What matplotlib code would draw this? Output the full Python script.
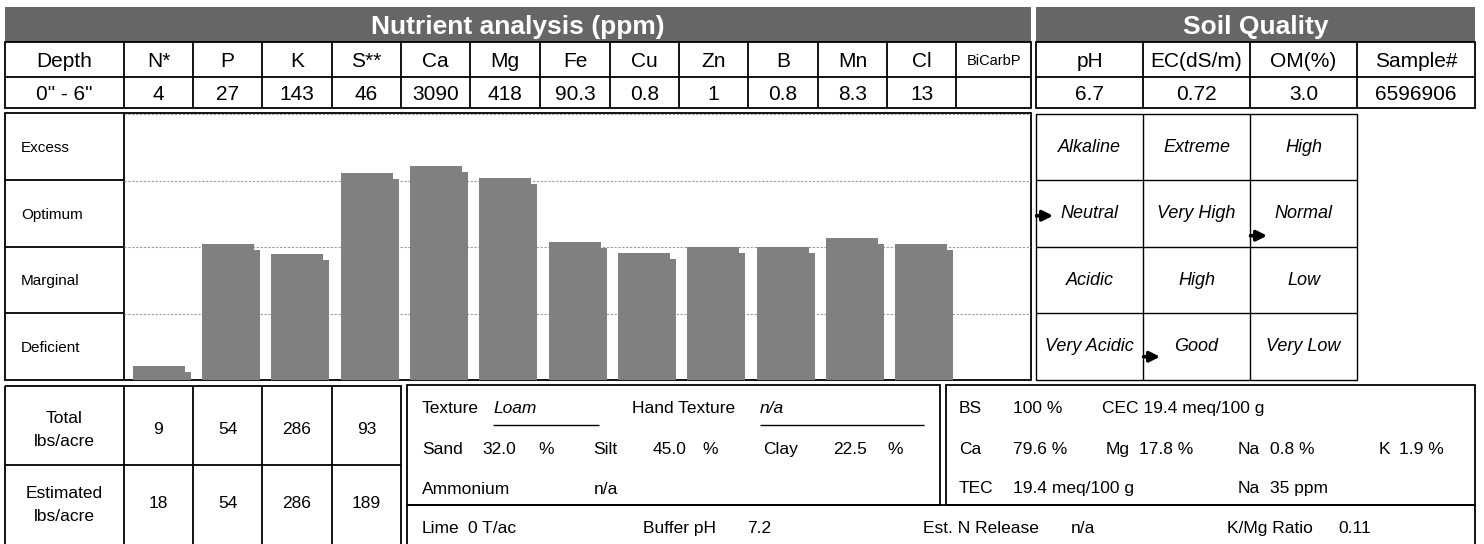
import numpy as np
import matplotlib.pyplot as plt
from matplotlib.patches import Rectangle

plt.rcParams['font.family'] = ['Liberation Sans', 'DejaVu Sans']

# ---- data ----
depth = '0" - 6"'
nutrients = ['N*', 'P', 'K', 'S**', 'Ca', 'Mg', 'Fe', 'Cu', 'Zn', 'B', 'Mn', 'Cl', 'BiCarbP']
ppm = ['4', '27', '143', '46', '3090', '418', '90.3', '0.8', '1', '0.8', '8.3', '13', '']
# bar height in rating units (0 = bottom of Deficient, 4 = top of Excess)
levels = [0.21, 2.04, 1.89, 3.11, 3.22, 3.04, 2.08, 1.91, 2.0, 2.0, 2.13, 2.05]
ratings = ['Excess', 'Optimum', 'Marginal', 'Deficient']

quality_cols = ['pH', 'EC(dS/m)', 'OM(%)', 'Sample#']
quality_vals = ['6.7', '0.72', '3.0', '6596906']
ph_classes = ['Alkaline', 'Neutral', 'Acidic', 'Very Acidic']
ec_classes = ['Extreme', 'Very High', 'High', 'Good']
om_classes = ['High', 'Normal', 'Low', 'Very Low']
quality_levels = [2.47, 0.35, 2.17]   # arrow marks for pH, EC, OM

total_lbs = [9, 54, 286, 93]
est_lbs = [18, 54, 286, 189]

texture, hand_texture = 'Loam', 'n/a'
sand, silt, clay = 32.0, 45.0, 22.5
ammonium = 'n/a'
lime, buffer_ph, n_release, k_mg_ratio = 0, 7.2, 'n/a', 0.11
bs, cec, tec, na_ppm = 100, 19.4, 19.4, 35
sat_labels = ['Ca', 'Mg', 'Na', 'K']
sat_pct = [79.6, 17.8, 0.8, 1.9]

# ---- layout (pixels) ----
W, H = 1484, 544
fig = plt.figure(figsize=(W / 100, H / 100), dpi=100)
ax = fig.add_axes([0, 0, 1, 1])
ax.set_xlim(0, W)
ax.set_ylim(H, 0)
ax.axis('off')


def frac(x0, y0, x1, y1):
    return [x0 / W, 1 - y1 / H, (x1 - x0) / W, (y1 - y0) / H]


def box(x0, y0, x1, y1, lw=1.3, **kw):
    ax.add_patch(Rectangle((x0, y0), x1 - x0, y1 - y0, fill=False, ec='black', lw=lw, **kw))


def hline(y, x0, x1, lw=1.3):
    ax.plot([x0, x1], [y, y], color='black', lw=lw, solid_capstyle='butt')


def vline(x, y0, y1, lw=1.3):
    ax.plot([x, x], [y0, y1], color='black', lw=lw, solid_capstyle='butt')


def txt(x, y, s, size, ha='center', **kw):
    # y is the visual middle of capitals
    ax.text(x, y + 0.358 * size * 100 / 72, s, fontsize=size, ha=ha, va='baseline', **kw)


# header bands
ax.add_patch(Rectangle((5, 7), 1026, 35, color='#666666', lw=0))
ax.add_patch(Rectangle((1036, 7), 439, 35, color='#666666', lw=0))
txt(518, 25, 'Nutrient analysis (ppm)', 19, color='white', weight='bold')
txt(1255.5, 25, 'Soil Quality', 19, color='white', weight='bold')

# nutrient table
cols = [5, 124, 193, 262, 332, 401, 470, 540, 610, 679, 748, 818, 887, 956, 1031]
box(5, 42, 1031, 108)
hline(77, 5, 1031)
for x in cols[1:-1]:
    vline(x, 42, 108)
heads = ['Depth'] + nutrients
vals = [depth] + ppm
for i in range(len(heads)):
    xc = (cols[i] + cols[i + 1]) / 2
    txt(xc, 60, heads[i], 10.5 if heads[i] == 'BiCarbP' else 15)
    txt(xc, 93, vals[i], 15)

# soil quality table
qcols = [1036, 1143, 1250, 1357, 1475]
box(1036, 42, 1475, 108)
hline(77, 1036, 1475)
for x in qcols[1:-1]:
    vline(x, 42, 108)
for i in range(4):
    xc = (qcols[i] + qcols[i + 1]) / 2
    txt(xc, 60, quality_cols[i], 15)
    txt(xc, 93, quality_vals[i], 15)

# chart frame + rating labels
rows = [114, 180, 247, 313, 380]
box(5, 113, 1031, 380)
vline(124, 113, 380)
for y in rows[1:-1]:
    hline(y, 5, 124)
for i, r in enumerate(ratings):
    txt(21, (rows[i] + rows[i + 1]) / 2, r, 11, ha='left')

# bars
bx = fig.add_axes(frac(124, 114, 1031, 380))
bx.patch.set_alpha(0)
colw = 69.33
bx.set_xlim(0, 907 / colw)
bx.set_ylim(0, 4)
bx.axis('off')
for lv in [1, 2, 3, 4]:
    bx.axhline(lv, color='#9a9a9a', lw=0.8, ls=(0, (2, 1.5)), zorder=0)
x = np.arange(len(levels)) + 0.5
lv = np.array(levels)
bx.bar(x + 6 / colw, lv - 6 / 66.5, width=0.75, color='#808080', zorder=2)
bx.bar(x, lv, width=0.75, color='#808080', zorder=3)

# soil quality grid
box(1036, 114, 1357, 380, lw=1.0)
for xq in qcols[1:3]:
    vline(xq, 114, 380, lw=1.0)
for y in rows[1:-1]:
    hline(y, 1036, 1357, lw=1.0)
qx = fig.add_axes(frac(1036, 114, 1357, 380))
qx.patch.set_alpha(0)
qx.set_xlim(0, 3)
qx.set_ylim(0, 4)
qx.axis('off')
for c, classes in enumerate([ph_classes, ec_classes, om_classes]):
    for r, name in enumerate(classes):
        qx.text(c + 0.5, 3.5 - r, name, fontsize=13, style='italic', ha='center', va='center')
    qx.annotate('', xy=(c + 0.16, quality_levels[c]), xytext=(c + 0.005, quality_levels[c]),
                arrowprops=dict(arrowstyle='-|>', color='black', lw=2.6, mutation_scale=15,
                                shrinkA=0, shrinkB=0))

# lbs/acre table
fs = 12.5
bcols = [5, 124, 193, 262, 332, 401]
box(5, 386, 401, 560)
hline(465, 5, 401)
for xb in bcols[1:-1]:
    vline(xb, 386, 544)
txt(64.5, 417, 'Total', fs)
txt(64.5, 440, 'lbs/acre', fs)
txt(64.5, 492, 'Estimated', fs)
txt(64.5, 515, 'lbs/acre', fs)
for i in range(4):
    xc = (bcols[i + 1] + bcols[i + 2]) / 2
    txt(xc, 428, str(total_lbs[i]), fs)
    txt(xc, 502, str(est_lbs[i]), fs)

# texture box
box(407, 385, 940, 505)
hline(425, 493, 599, lw=1.0)
hline(425, 760, 924, lw=1.0)
txt(422, 407, 'Texture', fs, ha='left')
txt(493, 407, texture, fs, ha='left', style='italic')
txt(632, 407, 'Hand Texture', fs, ha='left')
txt(760, 407, hand_texture, fs, ha='left', style='italic')
for lab, v, xl, xv, xp in [('Sand', sand, 422, 482, 538), ('Silt', silt, 593, 653, 702),
                           ('Clay', clay, 763, 833, 887)]:
    txt(xl, 448, lab, fs, ha='left')
    txt(xv, 448, f'{v:.1f}', fs, ha='left')
    txt(xp, 448, '%', fs, ha='left')
txt(422, 488, 'Ammonium', fs, ha='left')
txt(594, 488, ammonium, fs, ha='left')

# base saturation box
box(946, 385, 1475, 505)
txt(959, 407, 'BS', fs, ha='left')
txt(1013, 407, f'{bs} %', fs, ha='left')
txt(1102, 407, f'CEC {cec} meq/100 g', fs, ha='left')
for lab, p, xl, xv in zip(sat_labels, sat_pct, [959, 1106, 1238, 1379], [1013, 1139, 1270, 1399]):
    txt(xl, 448, lab, fs, ha='left')
    txt(xv, 448, f'{p} %', fs, ha='left')
txt(959, 487, 'TEC', fs, ha='left')
txt(1013, 487, f'{tec} meq/100 g', fs, ha='left')
txt(1238, 487, 'Na', fs, ha='left')
txt(1270, 487, f'{na_ppm} ppm', fs, ha='left')

# bottom strip
box(407, 505, 1475, 560)
txt(422, 527, 'Lime', fs, ha='left')
txt(468, 527, f'{lime} T/ac', fs, ha='left')
txt(643, 527, 'Buffer pH', fs, ha='left')
txt(747, 527, f'{buffer_ph}', fs, ha='left')
txt(923, 527, 'Est. N Release', fs, ha='left')
txt(1071, 527, n_release, fs, ha='left')
txt(1227, 527, 'K/Mg Ratio', fs, ha='left')
txt(1338, 527, f'{k_mg_ratio}', fs, ha='left')

fig.savefig('out.png', dpi=100)
